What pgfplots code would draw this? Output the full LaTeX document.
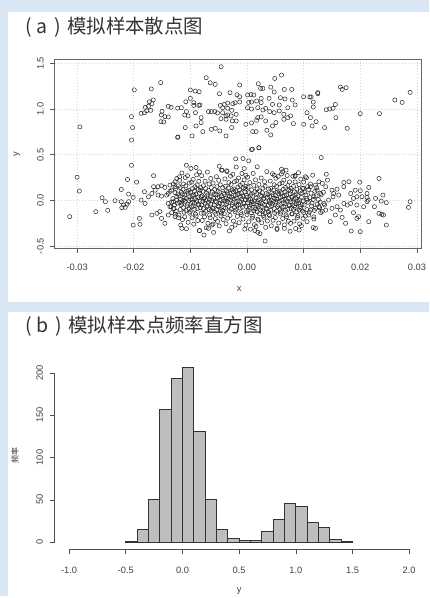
\documentclass[border=0pt]{standalone}
\usepackage{pgfplots}
\pgfplotsset{compat=1.18}
\usepackage{fontspec}
\setmainfont{Liberation Sans}
\newfontfamily\cjk{Noto Sans CJK SC}
\definecolor{bgblue}{RGB}{217,231,245}
\definecolor{lgray}{RGB}{211,211,211}
\definecolor{histgray}{RGB}{190,190,190}
\begin{document}
\begin{tikzpicture}
\fill[bgblue] (0pt,0pt) rectangle (430pt,598pt);
\fill[white] (8pt,295pt) rectangle (430pt,586pt);
\fill[white] (8pt,0pt) rectangle (430pt,285pt);
\node[anchor=west, inner sep=0pt, text=black!80, font=\cjk\fontsize{19.5}{19.5}\selectfont] at (25pt,571pt) {(\hspace{5pt}a\hspace{7pt})\hspace{6pt}模拟样本散点图};
\node[anchor=west, inner sep=0pt, text=black!80, font=\cjk\fontsize{19.5}{19.5}\selectfont] at (25pt,271pt) {(\hspace{5pt}b\hspace{7pt})\hspace{6pt}模拟样本点频率直方图};
% axis labels
\node[font=\fontsize{9.3}{10}\selectfont, text=black!75] at (240pt,308pt) {x};
\node[font=\fontsize{9.3}{10}\selectfont, text=black!75, rotate=90] at (17pt,443pt) {y};
\node[font=\cjk\fontsize{8}{9}\selectfont, text=black!80, rotate=90] at (15pt,141pt) {频率};
\node[font=\fontsize{9.3}{10}\selectfont, text=black!75] at (240pt,5pt) {y};

\begin{axis}[
  at={(55pt,349pt)}, anchor=south west, scale only axis,
  width=368pt, height=189pt,
  xmin=-0.03393, xmax=0.03086, ymin=-0.524, ymax=1.539,
  xtick={-0.03,-0.02,-0.01,0,0.01,0.02,0.03},
  xticklabels={-0.03,-0.02,-0.01,0.00,0.01,0.02,0.03},
  ytick={-0.5,0,0.5,1,1.5},
  yticklabels={-0.5,0.0,0.5,1.0,1.5},
  scaled x ticks=false,
  tick align=outside, xtick pos=left, ytick pos=left,
  major tick length=4.5pt,
  tick style={black!65, line width=0.6pt},
  axis line style={black!60, line width=0.7pt},
  grid=major, major grid style={lgray, line width=0.6pt, dash pattern=on 1pt off 2pt},
  xticklabel shift=8pt, yticklabel shift=3pt,
  xticklabel style={font=\fontsize{9.3}{10}\selectfont, text=black!75},
  yticklabel style={font=\fontsize{9.3}{10}\selectfont, text=black!75, rotate=90, anchor=south},
]
% upper cluster
\addplot[only marks, mark=o, mark size=2.1pt, mark options={line width=0.5pt, draw=black!85}] coordinates {
(-0.01525,1.29) (-0.0199,1.21) (-0.0169,1.22) (-0.01655,1.10) (-0.01725,1.08) (-0.0168,1.06)
(-0.01795,1.02) (-0.0174,1.03) (-0.017,0.986) (-0.0177,0.98) (-0.0181,0.96) (-0.0187,0.953)
(-0.0139,1.03) (-0.0134,1.02) (-0.015,0.975) (-0.0151,0.935) (-0.0145,0.917) (-0.0139,0.914)
(-0.0152,0.862) (-0.0147,0.859) (-0.0204,0.917) (-0.0202,0.797) (-0.0204,0.66) (-0.0295,0.805)
(-0.01225,0.69) (-0.01225,1.01)
(-0.00456,1.463) (-0.0072,1.343) (-0.0065,1.288) (-0.0056,1.27) (-0.0013,1.263) (-0.0100,1.209)
(-0.00915,1.197) (-0.00845,1.19) (-0.00486,1.168) (-0.0030,1.179) (-0.00176,1.157) (-0.0013,1.135)
(-0.0100,1.117) (-0.0108,1.08) (-0.0094,1.07) (-0.0083,1.045) (-0.0094,1.04) (-0.0085,1.04)
(-0.0047,1.04) (-0.0040,1.051) (-0.0034,1.066) (-0.0025,1.059) (-0.0021,1.07) (-0.0013,1.077)
(0.0001,1.154) (0.0007,1.16) (0.0012,1.154) (0.0020,1.277) (0.0024,1.226) (0.0028,1.226)
(0.0042,1.24) (0.0049,1.335) (0.0061,1.372) (0.0048,1.187) (0.0066,1.215) (0.0079,1.215)
(0.0059,1.124) (0.0067,1.11) (0.0080,1.099) (0.0039,1.117) (0.0025,1.117) (0.0017,1.088)
(0.0003,1.073) (0.0008,1.077) (0.0025,1.07) (0.0085,1.045) (0.0072,1.015) (0.0057,1.045)
(0.0045,1.051) (0.0033,1.008) (0.0028,0.99) (0.0019,1.015) (0.0008,1.001) (0.0001,1.015)
(0.0040,0.972) (0.0048,0.96) (0.0057,0.979) (0.0065,0.942) (0.0072,0.906) (0.0077,0.925)
(0.0082,0.84) (0.0065,0.888) (0.0051,0.852) (0.0045,0.815) (0.0033,0.87) (0.0025,0.914)
(0.0019,0.906) (0.0017,0.877) (0.0008,0.848) (-0.0002,0.833) (0.0010,0.753) (0.0016,0.753)
(0.0042,0.717) (0.0035,0.768) (0.00095,0.56) (0.0021,0.579)
(-0.0068,0.972) (-0.0063,0.972) (-0.0057,0.972) (-0.0052,0.957) (-0.0043,0.96) (-0.0037,0.925)
(-0.0034,0.935) (-0.0028,0.925) (-0.0019,0.942) (-0.0046,0.895) (-0.0037,0.888) (-0.0026,0.87)
(-0.0019,0.87) (-0.0043,1.015) (-0.0034,1.008) (-0.0027,0.986) (-0.0091,0.96) (-0.0081,0.906)
(-0.0081,0.852) (-0.0090,0.815) (-0.0109,0.797) (-0.0063,0.778) (-0.0056,0.789) (-0.0048,0.761)
(-0.0037,0.706) (-0.0027,0.797) (-0.0078,0.753) (-0.0097,0.706) (-0.0122,0.695) (-0.0110,0.935)
(-0.0116,1.015) (-0.0107,0.972) (-0.0104,0.925)
(0.0165,1.241) (0.0168,1.215) (0.0175,1.234) (0.0100,1.135) (0.0111,1.132) (0.0113,1.132)
(0.0125,1.168) (0.0125,1.18) (0.0117,1.077) (0.0117,1.023) (0.0140,0.993) (0.0146,1.001)
(0.0152,1.008) (0.0156,1.051) (0.0106,0.96) (0.0112,0.906) (0.0122,0.862) (0.0115,0.815)
(0.0100,0.833) (0.0137,0.797) (0.0157,0.906) (0.0177,0.789) (0.0200,0.95) (0.0234,0.95)
(0.0261,1.099) (0.0274,1.073) (0.0288,1.182)
(-0.0020,0.455) (-0.0007,0.458)
};
% lower cluster, left part
\addplot[only marks, mark=o, mark size=2.1pt, mark options={line width=0.5pt, draw=black!85}] coordinates {
(-0.0313,-0.178) (-0.0300,0.254) (-0.0296,0.102) (-0.0204,0.385) (-0.0211,0.229) (-0.0195,0.200)
(-0.0165,0.270) (-0.0222,0.120) (-0.0209,0.069) (-0.0201,0.033) (-0.0256,0.029) (-0.0250,-0.014)
(-0.0233,-0.003) (-0.0267,-0.123) (-0.0246,-0.109) (-0.0222,-0.014) (-0.0218,-0.051) (-0.0212,-0.040)
(-0.0209,-0.014) (-0.0221,-0.080) (-0.0215,-0.076) (-0.0187,0.003) (-0.0180,-0.033) (-0.0181,0.095)
(-0.0174,0.040) (-0.0168,0.076) (-0.0165,0.150) (-0.0157,0.150) (-0.0151,0.160) (-0.0145,0.142)
(-0.0136,0.167) (-0.0127,0.204) (-0.0162,0.112) (-0.0168,-0.160) (-0.0159,-0.142) (-0.0154,-0.123)
(-0.0151,-0.197) (-0.0145,-0.251) (-0.0201,-0.270) (-0.0189,-0.262) (-0.0190,-0.197) (-0.0157,0.058)
(-0.0151,0.047) (-0.0142,0.058) (-0.0139,-0.033) (-0.0136,-0.069) (-0.0130,-0.087) (-0.0133,-0.134)
(-0.0139,-0.160) (-0.0127,-0.178) (-0.0130,-0.014) (-0.0124,0.003) (-0.0127,0.084) (-0.0133,0.112)
(-0.0139,0.076) (-0.0127,0.150) (-0.0124,0.240)
(-0.0128,-0.05) (-0.0125,-0.12) (-0.0131,0.02) (-0.0122,0.07) (-0.0126,0.13) (-0.0133,-0.02)
(-0.0121,-0.19) (-0.0129,-0.09) (-0.0124,0.04) (-0.0136,0.10) (-0.0123,-0.03) (-0.0130,0.18)
(-0.0127,-0.15) (-0.0134,-0.07) (-0.0121,0.16)
};
% lower cluster, right part
\addplot[only marks, mark=o, mark size=2.1pt, mark options={line width=0.5pt, draw=black!85}] coordinates {
(0.0131,0.469) (0.0233,0.240) (0.0215,0.142) (0.0199,0.200) (0.0180,0.204) (0.0171,0.197)
(0.0171,0.150) (0.0159,0.123) (0.0240,0.058) (0.0246,-0.025) (0.0237,-0.008) (0.0225,-0.069)
(0.0233,-0.142) (0.0238,-0.153) (0.0241,-0.160) (0.0246,-0.270) (0.0288,-0.014) (0.0285,-0.076)
(0.0212,0.033) (0.0214,0.003) (0.0215,-0.233) (0.0200,-0.342) (0.0184,-0.335) (0.0194,-0.197)
(0.0197,-0.178) (0.0188,-0.134) (0.0174,-0.251) (0.0168,-0.186) (0.0156,-0.160) (0.0147,-0.233)
(0.0121,-0.306) (0.0117,-0.298) (0.0118,-0.204) (0.0106,-0.233) (0.0194,0.040) (0.0188,0.022)
(0.0203,0.040) (0.0212,-0.014) (0.0206,-0.069) (0.0194,-0.051) (0.0183,-0.033) (0.0177,-0.051)
(0.0171,-0.033) (0.0142,0.222) (0.0140,0.287) (0.0116,0.276) (0.0103,0.259) (0.0127,0.204)
(0.0139,0.150) (0.0150,0.112) (0.0152,0.040) (0.0162,0.058) (0.0144,0.003) (0.0136,-0.033)
(0.0127,-0.069) (0.0130,-0.134) (0.0139,-0.106) (0.0150,-0.087) (0.0159,-0.069) (0.0165,-0.106)
(0.0109,-0.160) (0.0100,-0.134) (0.0112,-0.106) (0.0121,-0.087) (0.0106,0.003) (0.0118,0.040)
(0.0130,0.076) (0.0124,0.112) (0.0112,0.150) (0.0100,0.131) (0.0133,0.186) (0.0121,0.167)
(0.0153,0.076) (0.0183,0.076) (0.0191,0.112) (0.0200,0.106) (0.0212,0.076) (0.0227,0.022)
(0.0101,-0.05) (0.0104,0.06) (0.0108,-0.02) (0.0102,0.09) (0.0111,0.03) (0.0106,-0.10)
(0.0114,-0.06) (0.0109,0.12) (0.0117,0.01) (0.0103,-0.17) (0.0112,0.18) (0.0119,-0.11)
(0.0122,0.05) (0.0100,0.20) (0.0115,-0.03) (0.0107,0.15) (0.0124,-0.04) (0.0120,0.10)
(0.0126,0.01) (0.0110,-0.13) (0.0128,-0.08) (0.0105,0.02) (0.0113,0.08) (0.0118,-0.18)
(0.0123,0.14) (0.0131,0.06) (0.0129,-0.02) (0.0133,-0.12) (0.0135,0.09) (0.0137,-0.05)
(0.0061,0.290) (0.0085,0.273) (0.0105,0.248)
};
% lower cluster, outer points of the dense middle
\addplot[only marks, mark=o, mark size=2.1pt, mark options={line width=0.5pt, draw=black!85}] coordinates {
(-0.0107,0.385) (-0.0090,0.360) (-0.0084,0.313) (-0.0049,0.375) (-0.0045,0.331) (-0.0036,0.324)
(-0.0005,0.349) (-0.0002,0.276) (0.0018,0.368) (0.0048,0.276) (0.0063,0.313) (0.0069,0.331)
(0.0085,0.265) (-0.0119,0.259) (0.0003,0.433) (0.0008,0.556) (0.0021,0.575)
(-0.0115,-0.306) (-0.0084,-0.331) (-0.0076,-0.379) (-0.0068,-0.306) (-0.0060,-0.259) (-0.0031,-0.335)
(-0.0021,-0.270) (0.0014,-0.331) (0.0019,-0.349) (0.0032,-0.444) (-0.0002,-0.270) (0.0053,-0.306)
(0.0066,-0.306) (0.0092,-0.324) (0.0077,-0.251)
};
% lower cluster, dense middle
\addplot[only marks, mark=o, mark size=2.1pt, mark options={line width=0.5pt, draw=black!85}] coordinates {
(-0.0117,-0.27) (-0.0120,-0.16) (-0.0118,-0.10) (-0.0116,-0.05) (-0.0119,-0.02) (-0.0117,0.01) (-0.0120,0.05) (-0.0116,0.09) (-0.0118,0.14) (-0.0119,0.22)
(-0.0114,-0.21) (-0.0111,-0.13) (-0.0112,-0.08) (-0.0115,-0.03) (-0.0113,0.00) (-0.0111,0.03) (-0.0114,0.07) (-0.0113,0.12) (-0.0112,0.18) (-0.0115,0.30)
(-0.0107,-0.31) (-0.0110,-0.18) (-0.0108,-0.11) (-0.0106,-0.06) (-0.0109,-0.01) (-0.0107,0.02) (-0.0110,0.06) (-0.0106,0.10) (-0.0108,0.16) (-0.0109,0.25)
(-0.0104,-0.24) (-0.0101,-0.14) (-0.0102,-0.09) (-0.0105,-0.04) (-0.0103,0.00) (-0.0101,0.04) (-0.0104,0.08) (-0.0103,0.11) (-0.0102,0.19) (-0.0105,0.27)
(-0.0097,-0.19) (-0.0100,-0.12) (-0.0098,-0.07) (-0.0096,-0.02) (-0.0099,0.01) (-0.0097,0.05) (-0.0100,0.09) (-0.0096,0.13) (-0.0098,0.20) (-0.0099,0.35)
(-0.0094,-0.26) (-0.0091,-0.15) (-0.0092,-0.10) (-0.0095,-0.06) (-0.0093,-0.03) (-0.0091,0.02) (-0.0094,0.06) (-0.0093,0.10) (-0.0092,0.15) (-0.0095,0.23)
(-0.0087,-0.22) (-0.0090,-0.17) (-0.0088,-0.09) (-0.0086,-0.04) (-0.0089,0.00) (-0.0087,0.03) (-0.0090,0.07) (-0.0086,0.12) (-0.0088,0.17) (-0.0089,0.28)
(-0.0084,-0.33) (-0.0081,-0.14) (-0.0082,-0.08) (-0.0085,-0.05) (-0.0083,-0.01) (-0.0081,0.04) (-0.0084,0.08) (-0.0083,0.11) (-0.0082,0.14) (-0.0085,0.21)
(-0.0079,-0.22) (-0.0076,-0.14) (-0.0077,-0.09) (-0.0080,-0.05) (-0.0078,-0.01) (-0.0076,0.02) (-0.0079,0.05) (-0.0078,0.10) (-0.0077,0.16) (-0.0080,0.27)
(-0.0072,-0.30) (-0.0075,-0.18) (-0.0073,-0.12) (-0.0071,-0.07) (-0.0074,-0.03) (-0.0072,0.00) (-0.0075,0.03) (-0.0071,0.08) (-0.0073,0.13) (-0.0074,0.21)
(-0.0069,-0.25) (-0.0066,-0.16) (-0.0067,-0.10) (-0.0070,-0.06) (-0.0068,-0.02) (-0.0066,0.01) (-0.0069,0.06) (-0.0068,0.11) (-0.0067,0.18) (-0.0070,0.31)
(-0.0062,-0.27) (-0.0065,-0.19) (-0.0063,-0.11) (-0.0061,-0.08) (-0.0064,-0.04) (-0.0062,0.00) (-0.0065,0.04) (-0.0061,0.09) (-0.0063,0.14) (-0.0064,0.24)
(-0.0059,-0.35) (-0.0056,-0.20) (-0.0057,-0.13) (-0.0060,-0.09) (-0.0058,-0.05) (-0.0056,-0.01) (-0.0059,0.02) (-0.0058,0.07) (-0.0057,0.12) (-0.0060,0.19)
(-0.0052,-0.23) (-0.0055,-0.15) (-0.0053,-0.10) (-0.0051,-0.06) (-0.0054,-0.02) (-0.0052,0.03) (-0.0055,0.06) (-0.0051,0.10) (-0.0053,0.15) (-0.0054,0.26)
(-0.0049,-0.28) (-0.0046,-0.17) (-0.0047,-0.12) (-0.0050,-0.07) (-0.0048,-0.03) (-0.0046,0.00) (-0.0049,0.04) (-0.0048,0.09) (-0.0047,0.17) (-0.0050,0.22)
(-0.0042,-0.21) (-0.0045,-0.14) (-0.0043,-0.11) (-0.0041,-0.08) (-0.0044,-0.04) (-0.0042,0.01) (-0.0045,0.05) (-0.0041,0.08) (-0.0043,0.14) (-0.0044,0.33)
(-0.0037,-0.255) (-0.0040,-0.145) (-0.0038,-0.085) (-0.0036,-0.035) (-0.0039,-0.005) (-0.0037,0.025) (-0.0040,0.065) (-0.0036,0.105) (-0.0038,0.155) (-0.0039,0.235)
(-0.0034,-0.195) (-0.0031,-0.115) (-0.0032,-0.065) (-0.0035,-0.015) (-0.0033,0.015) (-0.0031,0.045) (-0.0034,0.085) (-0.0033,0.135) (-0.0032,0.195) (-0.0035,0.315)
(-0.0027,-0.295) (-0.0030,-0.165) (-0.0028,-0.095) (-0.0026,-0.045) (-0.0029,0.005) (-0.0027,0.035) (-0.0030,0.075) (-0.0026,0.115) (-0.0028,0.175) (-0.0029,0.265)
(-0.0024,-0.225) (-0.0021,-0.125) (-0.0022,-0.075) (-0.0025,-0.025) (-0.0023,0.015) (-0.0021,0.055) (-0.0024,0.095) (-0.0023,0.125) (-0.0022,0.205) (-0.0025,0.285)
(-0.0017,-0.175) (-0.0020,-0.105) (-0.0018,-0.055) (-0.0016,-0.005) (-0.0019,0.025) (-0.0017,0.065) (-0.0020,0.105) (-0.0016,0.145) (-0.0018,0.215) (-0.0019,0.365)
(-0.0014,-0.245) (-0.0011,-0.135) (-0.0012,-0.085) (-0.0015,-0.045) (-0.0013,-0.015) (-0.0011,0.035) (-0.0014,0.075) (-0.0013,0.115) (-0.0012,0.165) (-0.0015,0.245)
(-0.0007,-0.205) (-0.0010,-0.155) (-0.0008,-0.075) (-0.0006,-0.025) (-0.0009,0.015) (-0.0007,0.045) (-0.0010,0.085) (-0.0006,0.135) (-0.0008,0.185) (-0.0009,0.295)
(-0.0004,-0.315) (-0.0001,-0.125) (-0.0002,-0.065) (-0.0005,-0.035) (-0.0003,0.005) (-0.0001,0.055) (-0.0004,0.095) (-0.0003,0.125) (-0.0002,0.155) (-0.0005,0.225)
(0.0003,-0.235) (0.0000,-0.155) (0.0002,-0.105) (0.0004,-0.065) (0.0001,-0.025) (0.0003,0.005) (0.0000,0.035) (0.0004,0.085) (0.0002,0.145) (0.0001,0.255)
(0.0006,-0.315) (0.0009,-0.195) (0.0008,-0.135) (0.0005,-0.085) (0.0007,-0.045) (0.0009,-0.015) (0.0006,0.015) (0.0007,0.065) (0.0008,0.115) (0.0005,0.195)
(0.0013,-0.265) (0.0010,-0.175) (0.0012,-0.115) (0.0014,-0.075) (0.0011,-0.035) (0.0013,-0.005) (0.0010,0.045) (0.0014,0.095) (0.0012,0.165) (0.0011,0.295)
(0.0016,-0.285) (0.0019,-0.205) (0.0018,-0.125) (0.0015,-0.095) (0.0017,-0.055) (0.0019,-0.015) (0.0016,0.025) (0.0017,0.075) (0.0018,0.125) (0.0015,0.225)
(0.0023,-0.365) (0.0020,-0.215) (0.0022,-0.145) (0.0024,-0.105) (0.0021,-0.065) (0.0023,-0.025) (0.0020,0.005) (0.0024,0.055) (0.0022,0.105) (0.0021,0.175)
(0.0026,-0.245) (0.0029,-0.165) (0.0028,-0.115) (0.0025,-0.075) (0.0027,-0.035) (0.0029,0.015) (0.0026,0.045) (0.0027,0.085) (0.0028,0.135) (0.0025,0.245)
(0.0033,-0.295) (0.0030,-0.185) (0.0032,-0.135) (0.0034,-0.085) (0.0031,-0.045) (0.0033,-0.015) (0.0030,0.025) (0.0034,0.075) (0.0032,0.155) (0.0031,0.205)
(0.0036,-0.225) (0.0039,-0.155) (0.0038,-0.125) (0.0035,-0.095) (0.0037,-0.055) (0.0039,-0.005) (0.0036,0.035) (0.0037,0.065) (0.0038,0.125) (0.0035,0.315)
(0.0043,-0.278) (0.0040,-0.168) (0.0042,-0.108) (0.0044,-0.058) (0.0041,-0.028) (0.0043,0.002) (0.0040,0.042) (0.0044,0.082) (0.0042,0.132) (0.0041,0.212)
(0.0046,-0.218) (0.0049,-0.138) (0.0048,-0.088) (0.0045,-0.038) (0.0047,-0.008) (0.0049,0.022) (0.0046,0.062) (0.0047,0.112) (0.0048,0.172) (0.0045,0.292)
(0.0053,-0.318) (0.0050,-0.188) (0.0052,-0.118) (0.0054,-0.068) (0.0051,-0.018) (0.0053,0.012) (0.0050,0.052) (0.0054,0.092) (0.0052,0.152) (0.0051,0.242)
(0.0056,-0.248) (0.0059,-0.148) (0.0058,-0.098) (0.0055,-0.048) (0.0057,-0.008) (0.0059,0.032) (0.0056,0.072) (0.0057,0.102) (0.0058,0.182) (0.0055,0.262)
(0.0063,-0.198) (0.0060,-0.128) (0.0062,-0.078) (0.0064,-0.028) (0.0061,0.002) (0.0063,0.042) (0.0060,0.082) (0.0064,0.122) (0.0062,0.192) (0.0061,0.342)
(0.0066,-0.268) (0.0069,-0.158) (0.0068,-0.108) (0.0065,-0.068) (0.0067,-0.038) (0.0069,0.012) (0.0066,0.052) (0.0067,0.092) (0.0068,0.142) (0.0065,0.222)
(0.0073,-0.228) (0.0070,-0.178) (0.0072,-0.098) (0.0074,-0.048) (0.0071,-0.008) (0.0073,0.022) (0.0070,0.062) (0.0074,0.112) (0.0072,0.162) (0.0071,0.272)
(0.0076,-0.338) (0.0079,-0.148) (0.0078,-0.088) (0.0075,-0.058) (0.0077,-0.018) (0.0079,0.032) (0.0076,0.072) (0.0077,0.102) (0.0078,0.132) (0.0075,0.202)
(0.0083,-0.227) (0.0080,-0.147) (0.0082,-0.097) (0.0084,-0.057) (0.0081,-0.017) (0.0083,0.013) (0.0080,0.043) (0.0084,0.093) (0.0082,0.153) (0.0081,0.263)
(0.0086,-0.307) (0.0089,-0.187) (0.0088,-0.127) (0.0085,-0.077) (0.0087,-0.037) (0.0089,-0.007) (0.0086,0.023) (0.0087,0.073) (0.0088,0.123) (0.0085,0.203)
(0.0093,-0.257) (0.0090,-0.167) (0.0092,-0.107) (0.0094,-0.067) (0.0091,-0.027) (0.0093,0.003) (0.0090,0.053) (0.0094,0.103) (0.0092,0.173) (0.0091,0.303)
(0.0096,-0.277) (0.0099,-0.197) (0.0098,-0.117) (0.0095,-0.087) (0.0097,-0.047) (0.0099,-0.007) (0.0096,0.033) (0.0097,0.083) (0.0098,0.133) (0.0095,0.233)
};
\end{axis}

\begin{axis}[
  at={(55pt,47pt)}, anchor=south west, scale only axis,
  width=369pt, height=189pt,
  xmin=-1.126, xmax=2.12, ymin=-8.6, ymax=214.1,
  xtick={-1,-0.5,0,0.5,1,1.5,2},
  xticklabels={-1.0,-0.5,0.0,0.5,1.0,1.5,2.0},
  ytick={0,50,100,150,200},
  yticklabels={0,50,100,150,200},
  tick align=outside, xtick pos=left, ytick pos=left,
  major tick length=4.5pt,
  tick style={black!70, line width=0.6pt},
  axis line style={draw=none},
  clip=false,
  xticklabel shift=10pt, yticklabel shift=4pt,
  xticklabel style={font=\fontsize{9.3}{10}\selectfont, text=black!75},
  yticklabel style={font=\fontsize{9.3}{10}\selectfont, text=black!75, rotate=90, anchor=south},
]
\addplot[ybar interval, fill=histgray, draw=black!80, line width=0.7pt] coordinates {
(-0.5,1) (-0.4,15) (-0.3,50) (-0.2,157) (-0.1,193) (0.0,206) (0.1,131) (0.2,50) (0.3,15)
(0.4,4) (0.5,2) (0.6,2) (0.7,13) (0.8,27) (0.9,46) (1.0,42) (1.1,23) (1.2,17) (1.3,3) (1.4,1) (1.5,0)
};
\draw[black!70, line width=0.7pt] (axis cs:-1,-8.6) -- (axis cs:2,-8.6);
\draw[black!70, line width=0.7pt] (axis cs:-1.126,0) -- (axis cs:-1.126,200);
\end{axis}
\end{tikzpicture}
\end{document}
